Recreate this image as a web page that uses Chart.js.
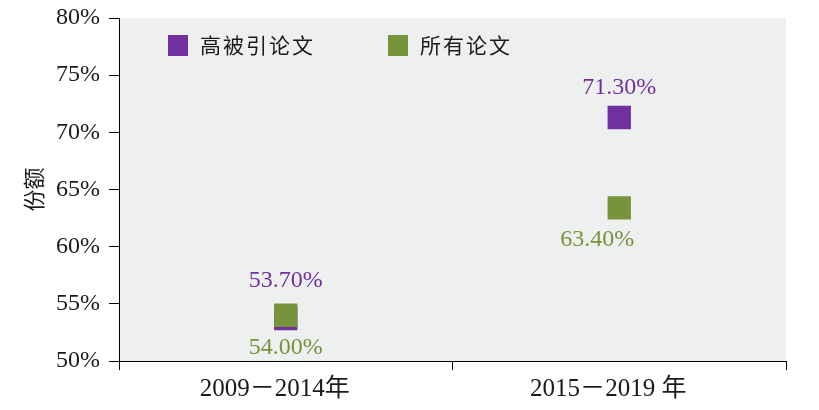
<!DOCTYPE html>
<html lang="zh-CN">
<head>
  <meta charset="UTF-8">
  <title>份额</title>
  <script src="https://cdn.jsdelivr.net/npm/chart.js"></script>
  <style>
    html, body { margin: 0; padding: 0; background: #fff; }
    #wrap { width: 819px; height: 410px; }
  </style>
</head>
<body>
  <div id="wrap"><canvas id="chart"></canvas></div>

  <script>
    // 数据
    const categories = ['2009－2014年', '2015－2019 年'];
    const seriesNames = ['高被引论文', '所有论文'];
    const highCited = [53.7, 71.3];
    const allPapers = [54.0, 63.4];
    const yMin = 50, yMax = 80, yStep = 5;

    const PURPLE = '#7030a0';
    const GREEN = '#77933c';
    const SERIF = '"Liberation Serif", "Noto Sans CJK SC", serif';

    // 绘图区背景
    const plotBg = {
      id: 'plotBg',
      beforeDraw(chart) {
        const { ctx, chartArea: a } = chart;
        ctx.save();
        ctx.fillStyle = '#eef0ef';
        ctx.fillRect(a.left, a.top, a.right - a.left, a.bottom - a.top);
        ctx.restore();
      }
    };

    // 数据标签：紫色在上，绿色在下
    const valueLabels = {
      id: 'valueLabels',
      afterDatasetsDraw(chart) {
        const ctx = chart.ctx;
        ctx.save();
        ctx.font = '24px ' + SERIF;
        ctx.textAlign = 'center';
        ctx.textBaseline = 'middle';
        chart.data.datasets.forEach((ds, di) => {
          chart.getDatasetMeta(di).data.forEach((pt, i) => {
            const above = di === 0;
            let dx = 0;
            if (!above && i === 1) dx = -22;
            const dy = above ? (i === 0 ? -38 : -30) : 32;
            ctx.fillStyle = ds.borderColor;
            ctx.fillText(ds.data[i].toFixed(2) + '%', pt.x + dx, pt.y + dy);
          });
        });
        ctx.restore();
      }
    };

    // 图例画在绘图区内
    const innerLegend = {
      id: 'innerLegend',
      afterDraw(chart) {
        const ctx = chart.ctx;
        const a = chart.chartArea;
        const xs = [a.left + 49, a.left + 269];
        const y = 45;
        ctx.save();
        ctx.font = '21px "Noto Sans CJK SC", sans-serif';
        ctx.letterSpacing = '2px';
        ctx.textBaseline = 'middle';
        ctx.textAlign = 'left';
        chart.data.datasets.forEach((ds, i) => {
          ctx.fillStyle = ds.backgroundColor;
          ctx.fillRect(xs[i], y - 10, 20, 21);
          ctx.fillStyle = '#1a1a1a';
          ctx.fillText(ds.label, xs[i] + 32, y);
        });
        ctx.restore();
      }
    };

    new Chart(document.getElementById('chart'), {
      type: 'line',
      data: {
        labels: categories,
        datasets: [
          {
            label: seriesNames[0],
            data: highCited,
            order: 1,
            showLine: false,
            pointStyle: 'rect',
            pointRadius: 16.5,
            pointHoverRadius: 16.5,
            backgroundColor: PURPLE,
            borderColor: PURPLE,
            borderWidth: 0
          },
          {
            label: seriesNames[1],
            data: allPapers,
            order: 0,
            showLine: false,
            pointStyle: 'rect',
            pointRadius: 16.5,
            pointHoverRadius: 16.5,
            backgroundColor: GREEN,
            borderColor: GREEN,
            borderWidth: 0
          }
        ]
      },
      options: {
        responsive: true,
        maintainAspectRatio: false,
        animation: false,
        layout: { padding: { top: 18, right: 33, left: 0, bottom: 0 } },
        plugins: {
          legend: { display: false },
          tooltip: { enabled: false }
        },
        scales: {
          x: {
            offset: true,
            grid: { drawOnChartArea: false, offset: true, tickLength: 9, color: '#000' },
            border: { color: '#000', width: 1 },
            ticks: { color: '#1a1a1a', font: { family: SERIF, size: 25 }, padding: 4, labelOffset: -11 },
            afterFit(scale) { scale.height = 49; }
          },
          y: {
            min: yMin,
            max: yMax,
            grid: { drawOnChartArea: false, tickLength: 10, color: '#000' },
            border: { color: '#000', width: 1 },
            ticks: {
              stepSize: yStep,
              color: '#1a1a1a',
              font: { family: SERIF, size: 24 },
              padding: 9,
              callback: v => v + '%'
            },
            title: {
              display: true,
              text: '份额',
              color: '#1a1a1a',
              font: { family: '"Noto Sans CJK SC", sans-serif', size: 22 },
              padding: { top: 20, bottom: 0 }
            },
            afterFit(scale) {
              scale.width = 119;
              scale.paddingTop = 0;
              scale.paddingBottom = 0;
            }
          }
        }
      },
      plugins: [plotBg, valueLabels, innerLegend]
    });
  </script>
</body>
</html>
